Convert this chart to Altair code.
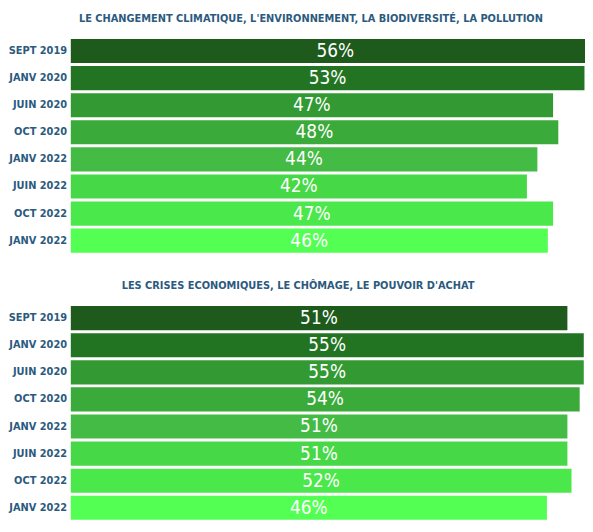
import altair as alt
import pandas as pd

periods = ["SEPT 2019", "JANV 2020", "JUIN 2020", "OCT 2020",
           "JANV 2022", "JUIN 2022", "OCT 2022", "JANV 2022"]
climat = [56, 53, 47, 48, 44, 42, 47, 46]
crises = [51, 55, 55, 54, 51, 51, 52, 46]
titles = ["LE CHANGEMENT CLIMATIQUE, L'ENVIRONNEMENT, LA BIODIVERSITÉ, LA POLLUTION",
          "LES CRISES ECONOMIQUES, LE CHÔMAGE, LE POUVOIR D'ACHAT"]
colors = ["#1d5a1c", "#227423", "#339933", "#3aaa3a",
          "#44bb44", "#47d847", "#4ae84a", "#52ff52"]

FONT = "DejaVu Sans Condensed"
LABEL = "#2b5a7e"


def panel(values, title, dom, dx):
    keys = [f"{i}|{p}" for i, p in enumerate(periods)]
    df = pd.DataFrame({"key": keys, "value": values})
    base = alt.Chart(df).transform_calculate(
        mid=f"(datum.value + ({dom[0]}))/2",
        lab="datum.value + '%'",
    )
    y = alt.Y(
        "key:N", sort=keys, title=None,
        scale=alt.Scale(paddingInner=0.11, paddingOuter=0.05),
        axis=alt.Axis(labelExpr="split(datum.value,'|')[1]", ticks=False, domain=False,
                      grid=False, labelFont=FONT, labelFontWeight="bold", labelFontSize=11,
                      labelColor=LABEL, labelPadding=4, minExtent=59, maxExtent=59),
    )
    xs = alt.Scale(domain=dom, nice=False, zero=False)
    bars = base.mark_bar(clip=True).encode(
        y=y,
        x=alt.X("value:Q", scale=xs, axis=None),
        x2=alt.datum(dom[0]),
        color=alt.Color("key:N", scale=alt.Scale(domain=keys, range=colors), legend=None),
    )
    text = base.mark_text(font=FONT, fontSize=19, color="white", align="center",
                          baseline="middle").encode(
        y=y,
        x=alt.X("mid:Q", scale=xs, axis=None),
        text="lab:N",
    )
    return alt.layer(bars, text).properties(
        width=518, height=218,
        title=alt.TitleParams(title, fontSize=11, font=FONT, fontWeight="bold",
                              color=LABEL, anchor="middle", dx=dx, offset=14),
    )


p1 = panel(climat, titles[0], [-45.2, 53.1], -17)
p2 = panel(crises, titles[1], [-70.4, 55.3], -30)

chart = alt.vconcat(p1, p2, spacing=26).properties(
    padding={"left": 0, "top": 3, "right": 0, "bottom": 0}
).configure_view(stroke=None)

chart.save("out.html", embed_options={"renderer": "svg", "actions": False})
